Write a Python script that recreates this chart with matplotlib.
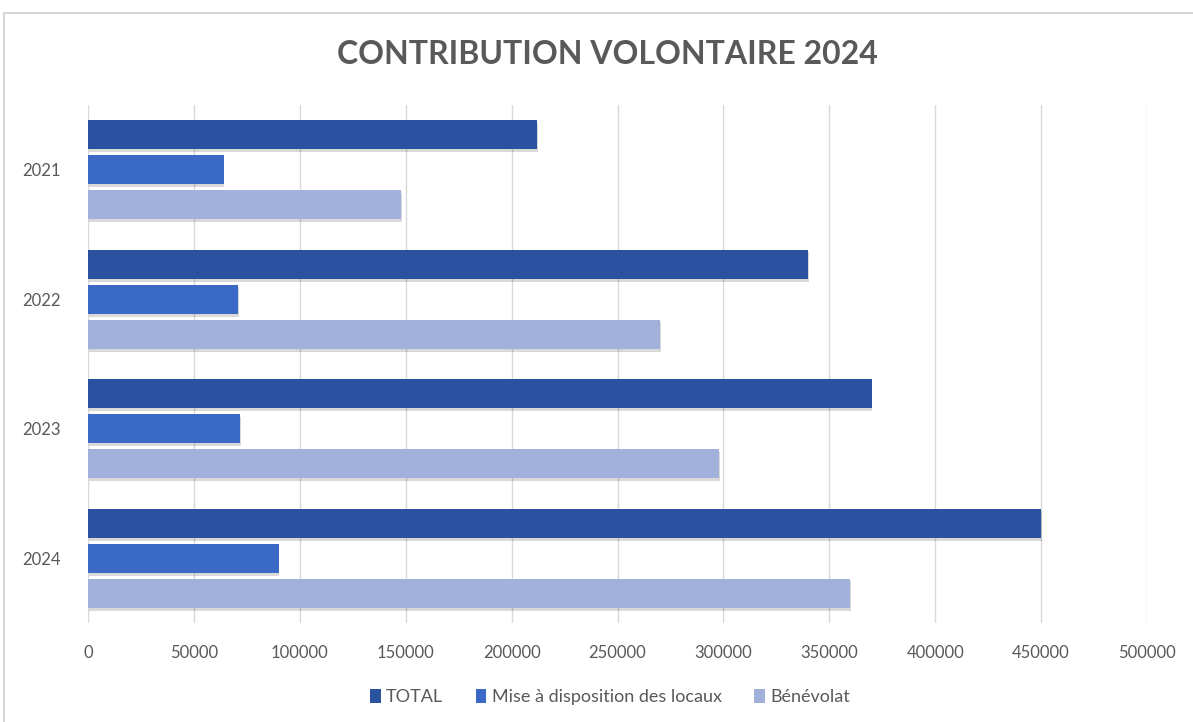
import matplotlib
matplotlib.use("Agg")
import matplotlib.pyplot as plt
import matplotlib.patheffects as pe
from matplotlib.lines import Line2D
from matplotlib.patches import Patch
import numpy as np

plt.rcParams['font.family'] = ['Liberation Sans Narrow', 'Lato', 'DejaVu Sans']

years = ["2021", "2022", "2023", "2024"]
series_names = ["TOTAL", "Mise à disposition des locaux", "Bénévolat"]
total = [212000, 340000, 370000, 450000]
locaux = [64000, 71000, 72000, 90000]
benevolat = [148000, 270000, 298000, 360000]
xticks = [0, 50000, 100000, 150000, 200000, 250000, 300000, 350000, 400000, 450000, 500000]

colors = ["#2B52A0", "#3A6AC6", "#A2B1DB"]
grey = "#595959"

fig = plt.figure(figsize=(11.93, 7.22), dpi=100)
W, H = 1193, 722
# chart frame
fig.add_artist(Line2D([4/W, 4/W], [0, 1 - 13/H], transform=fig.transFigure, color="#D0D0D0", lw=1.2))
fig.add_artist(Line2D([4/W, 1], [1 - 13/H, 1 - 13/H], transform=fig.transFigure, color="#D0D0D0", lw=1.2))

ax = fig.add_axes([88/W, 1 - 623/H, (1147 - 88)/W, (623 - 105)/H])
y = np.arange(len(years))
off = 0.27
h = 0.225
shadow = [pe.SimplePatchShadow(offset=(0.5, -2), shadow_rgbFace="#000000", alpha=0.15), pe.Normal()]
for vals, dy, c in zip([total, locaux, benevolat], [-off, 0, off], colors):
    bars = ax.barh(y + dy, vals, height=h, color=c, zorder=3)
    for b in bars:
        b.set_path_effects(shadow)

ax.set_ylim(3.5, -0.5)
ax.set_xlim(0, 500000)
ax.set_xticks(xticks)
ax.set_xticklabels([str(v) for v in xticks])
ax.set_yticks(y)
ax.set_yticklabels(years)
ax.grid(axis="x", color="#D9D9D9", lw=1, zorder=0)
for s in ax.spines.values():
    s.set_visible(False)
ax.tick_params(axis="both", length=0, colors=grey, labelsize=12)
ax.tick_params(axis="x", pad=16)
ax.tick_params(axis="y", pad=20)

fig.text(607/W, 1 - 54/H, "CONTRIBUTION VOLONTAIRE 2024", ha="center", va="center",
         fontsize=23, fontweight="bold", color=grey)

handles = [Patch(facecolor=c, edgecolor="none") for c in colors]
fig.legend(handles, series_names, loc="center", bbox_to_anchor=(610/W, 1 - 697/H), ncol=3,
           frameon=False, fontsize=13, labelcolor=grey, handlelength=0.6, handleheight=0.8,
           handletextpad=0.3, columnspacing=1.8)

fig.savefig("out.png", dpi=100, facecolor="white")
